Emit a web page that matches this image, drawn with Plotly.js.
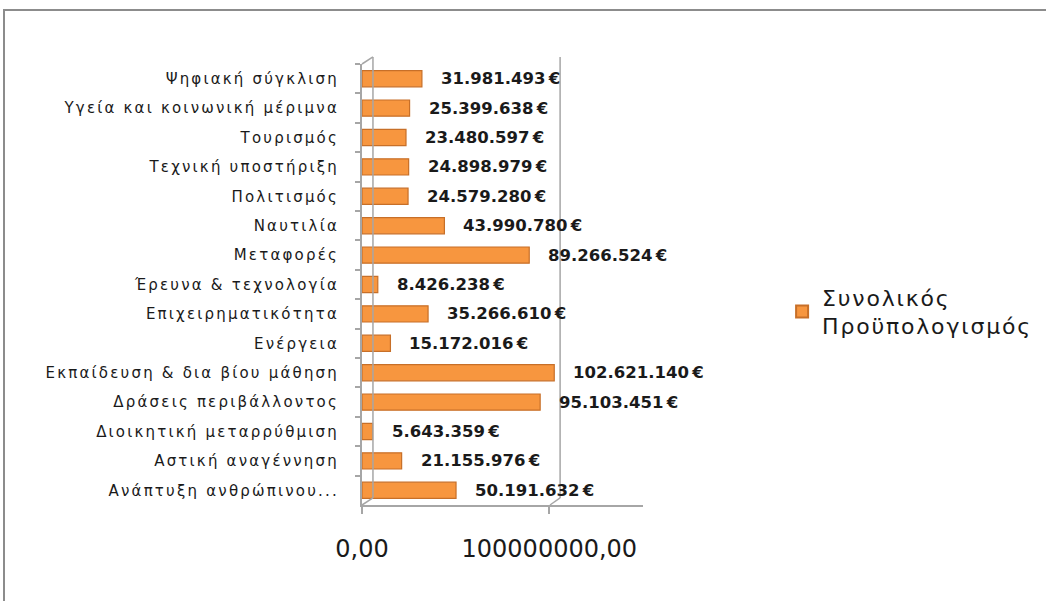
<!DOCTYPE html>
<html>
<head>
<meta charset="utf-8">
<script src="https://cdn.plot.ly/plotly-3.0.1.min.js"></script>
<style>
  html, body { margin: 0; padding: 0; background: #fff; }
  #wrap { position: relative; width: 1046px; height: 601px; }
  #chart { width: 1046px; height: 601px; }
  #frame { position: absolute; left: 3px; top: 9px; width: 1060px; height: 620px;
           border-top: 2px solid #8c8c8c; border-left: 2px solid #8c8c8c; pointer-events: none; }
  #chart .ytick text { letter-spacing: 2.2px; }
  #chart .legendtext { letter-spacing: 1.8px; }
  #chart .legend .scrollbox { clip-path: none !important; }
</style>
</head>
<body>
<div id="wrap">
  <div id="chart"></div>
  <div id="frame"></div>
</div>
<script>
// Categories, top to bottom as shown
const categories = [
  "Ψηφιακή σύγκλιση",
  "Υγεία και κοινωνική μέριμνα",
  "Τουρισμός",
  "Τεχνική υποστήριξη",
  "Πολιτισμός",
  "Ναυτιλία",
  "Μεταφορές",
  "Έρευνα & τεχνολογία",
  "Επιχειρηματικότητα",
  "Ενέργεια",
  "Εκπαίδευση & δια βίου μάθηση",
  "Δράσεις περιβάλλοντος",
  "Διοικητική μεταρρύθμιση",
  "Αστική αναγέννηση",
  "Ανάπτυξη ανθρώπινου..."
];
const budget = [
  31981493, 25399638, 23480597, 24898979, 24579280, 43990780, 89266524,
  8426238, 35266610, 15172016, 102621140, 95103451, 5643359, 21155976, 50191632
];
const seriesName = "Συνολικός<br>Προϋπολογισμός";
const xTickVals = [0, 100000000];
const xTickText = ["0,00", "100000000,00"];

function fmt(v) {
  return String(v).replace(/\B(?=(\d{3})+(?!\d))/g, ".") + "\u2009€";
}

const trace = {
  type: "bar",
  orientation: "h",
  x: budget,
  y: categories,
  name: seriesName,
  marker: { color: "#f7963f", line: { color: "#c76f28", width: 1.2 } },
  hoverinfo: "x+y",
  showlegend: true
};

const annotations = budget.map((v, i) => ({
  x: v, y: categories[i], xref: "x", yref: "y",
  text: fmt(v), showarrow: false, xanchor: "left", xshift: 17,
  font: { family: "DejaVu Sans", size: 16.5, color: "#1a1a1a", weight: "bold" }
}));

const grey = "#a6a6a6";
const shapes = [
  // back wall verticals (3D look)
  { type: "line", xref: "paper", yref: "paper", x0: 0.039, x1: 0.039, y0: 0.016, y1: 1.016, line: { color: grey, width: 1.5 } },
  { type: "line", xref: "paper", yref: "paper", x0: 0.705, x1: 0.705, y0: 0.016, y1: 1.016, line: { color: grey, width: 1.5 } },
  { type: "line", xref: "paper", yref: "paper", x0: 0.0, x1: 0.039, y0: 0.0, y1: 0.016, line: { color: grey, width: 1.5 } },
  { type: "line", xref: "paper", yref: "paper", x0: 0.669, x1: 0.705, y0: 0.0, y1: 0.016, line: { color: grey, width: 1.5 } },
  { type: "line", xref: "paper", yref: "paper", x0: 0.0, x1: 0.039, y0: 1.0, y1: 1.016, line: { color: grey, width: 1.5 } }
];

const layout = {
  width: 1046, height: 601,
  margin: { l: 362, r: 403, t: 64, b: 96, pad: 0 },
  paper_bgcolor: "#ffffff",
  plot_bgcolor: "rgba(0,0,0,0)",
  bargap: 0.45,
  xaxis: {
    range: [0, 150000000],
    tickvals: xTickVals, ticktext: xTickText,
    showgrid: false, zeroline: false,
    showline: true, linecolor: grey, linewidth: 2,
    ticks: "outside", ticklen: 7, tickcolor: grey, tickwidth: 2,
    ticklabelstandoff: 14,
    tickfont: { family: "DejaVu Sans", size: 24, color: "#1a1a1a" },
    fixedrange: true
  },
  yaxis: {
    autorange: "reversed",
    type: "category",
    showgrid: false, zeroline: false,
    showline: true, linecolor: grey, linewidth: 2,
    ticks: "outside", ticklen: 5, tickcolor: grey, tickwidth: 2,
    tickson: "boundaries",
    ticklabelstandoff: 18,
    tickfont: { family: "DejaVu Sans", size: 15, color: "#1a1a1a" },
    fixedrange: true
  },
  legend: {
    x: 1.495, y: 0.4376, xanchor: "left", yanchor: "middle",
    font: { family: "DejaVu Sans", size: 22, color: "#1a1a1a" },
    bgcolor: "rgba(0,0,0,0)",
    itemsizing: "constant"
  },
  showlegend: true,
  annotations: annotations,
  shapes: shapes
};

Plotly.newPlot("chart", [trace], layout, { displayModeBar: false, staticPlot: true });
</script>
</body>
</html>
